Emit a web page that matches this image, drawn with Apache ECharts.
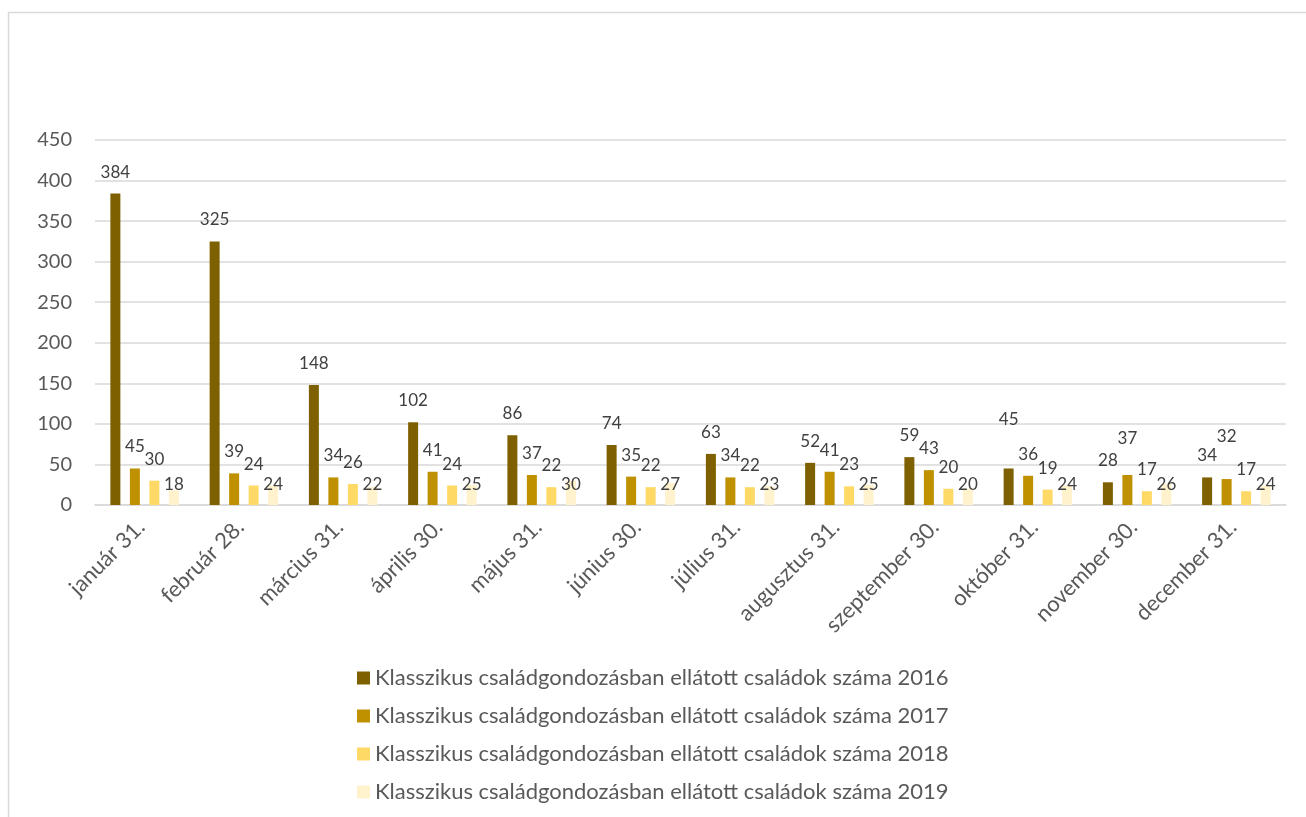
<!DOCTYPE html>
<html>
<head>
<meta charset="utf-8">
<script src="https://cdn.jsdelivr.net/npm/echarts@6/dist/echarts.min.js"></script>
<style>
  html, body { margin: 0; padding: 0; background: #fff; }
  #chart { width: 1306px; height: 817px; }
</style>
</head>
<body>
<div id="chart"></div>
<script>
// kategóriák (hónap végi dátumok)
const honapok = ['január 31.', 'február 28.', 'március 31.', 'április 30.', 'május 31.', 'június 30.',
  'július 31.', 'augusztus 31.', 'szeptember 30.', 'október 31.', 'november 30.', 'december 31.']

const ev2016 = [384, 325, 148, 102, 86, 74, 63, 52, 59, 45, 28, 34]
const ev2017 = [45, 39, 34, 41, 37, 35, 34, 41, 43, 36, 37, 32]
const ev2018 = [30, 24, 26, 24, 22, 22, 22, 23, 20, 19, 17, 17]
const ev2019 = [18, 24, 22, 25, 30, 27, 23, 25, 20, 24, 26, 24]

const sorozatNevek = [
  'Klasszikus családgondozásban ellátott családok száma 2016',
  'Klasszikus családgondozásban ellátott családok száma 2017',
  'Klasszikus családgondozásban ellátott családok száma 2018',
  'Klasszikus családgondozásban ellátott családok száma 2019'
]
const yTicks = [0, 50, 100, 150, 200, 250, 300, 350, 400, 450]

const szinek = ['#7F6000', '#BF9000', '#FFD966', '#FFF2CC']

// néhány címke kézzel arrébb volt húzva az eredetiben
const cimkeEltolas = { '0-9': -27, '1-10': -15, '1-11': -21 }

const chart = echarts.init(document.getElementById('chart'))
const betu = 'Lato, "Noto Sans", sans-serif'

const adatok = [ev2016, ev2017, ev2018, ev2019]
const series = adatok.map((arr, si) => ({
  name: sorozatNevek[si],
  type: 'bar',
  barWidth: 10,
  barGap: '95%',
  itemStyle: { color: szinek[si] },
  label: si === 3
    ? { show: true, position: 'insideBottom', distance: 12, color: '#404040', fontSize: 17, fontFamily: betu }
    : { show: true, position: 'top', distance: 13, color: '#404040', fontSize: 17, fontFamily: betu },
  data: arr.map((v, i) => {
    const off = cimkeEltolas[si + '-' + i]
    return off ? { value: v, label: { offset: [0, off] } } : v
  })
}))

chart.setOption({
  animation: false,
  color: szinek,
  graphic: [{
    type: 'rect',
    shape: { x: 8.5, y: 12.5, width: 1400, height: 900 },
    style: { fill: 'none', stroke: '#d9d9d9', lineWidth: 1.5 },
    silent: true
  }],
  grid: { left: 95, right: 20, top: 140, bottom: 312 },
  legend: {
    orient: 'vertical',
    left: 352,
    top: 662,
    itemWidth: 13,
    itemHeight: 13,
    itemGap: 16,
    icon: 'rect',
    textStyle: { color: '#595959', fontSize: 22, fontFamily: betu },
    data: sorozatNevek
  },
  xAxis: {
    type: 'category',
    data: honapok,
    axisTick: { show: false },
    axisLine: { lineStyle: { color: '#d9d9d9', width: 1.5 } },
    axisLabel: {
      rotate: 45,
      interval: 0,
      margin: 15,
      padding: [0, 5, 0, 0],
      color: '#595959',
      fontSize: 22,
      fontFamily: betu
    }
  },
  yAxis: {
    type: 'value',
    min: yTicks[0],
    max: yTicks[yTicks.length - 1],
    interval: 50,
    axisLine: { show: false },
    axisTick: { show: false },
    splitLine: { lineStyle: { color: '#d9d9d9', width: 1.5 } },
    axisLabel: { margin: 23, color: '#595959', fontSize: 20, fontFamily: betu }
  },
  series: series
})
</script>
</body>
</html>
